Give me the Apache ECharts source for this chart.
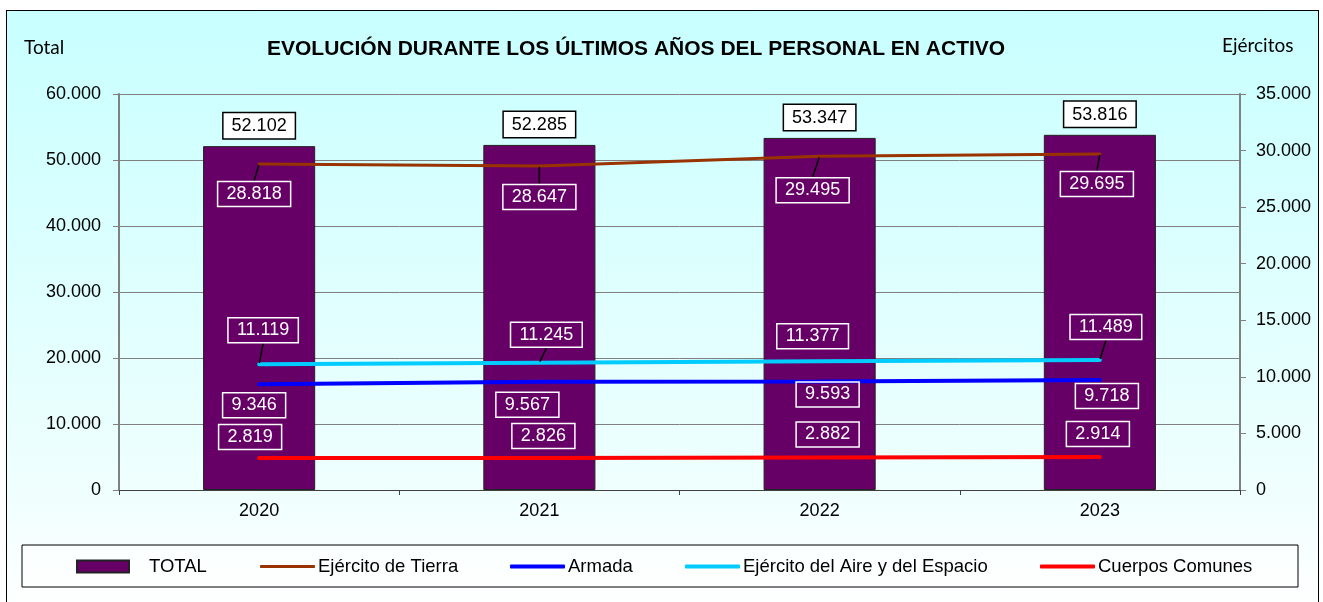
<!DOCTYPE html>
<html>
<head>
<meta charset="utf-8">
<script src="https://cdn.jsdelivr.net/npm/echarts@6/dist/echarts.min.js"></script>
<style>
  body { margin: 0; background: #fff; }
  #frame {
    position: absolute; left: 6px; top: 10px; width: 1311px; height: 600px;
    border: 1px solid #000;
    background: linear-gradient(to bottom, #c8ffff 0%, #effffe 80%, #ffffff 100%);
  }
  #main { position: absolute; left: 0; top: 0; width: 1323px; height: 602px; }
</style>
</head>
<body>
<div id="frame"></div>
<div id="main"></div>
<script>
// datos
const years = ['2020', '2021', '2022', '2023']
const total = [52102, 52285, 53347, 53816]
const tierra = [28818, 28647, 29495, 29695]
const armada = [9346, 9567, 9593, 9718]
const aire = [11119, 11245, 11377, 11489]
const comunes = [2819, 2826, 2882, 2914]

// desplazamiento de las etiquetas respecto al punto (px)
const tierraOff = [[-5, 30], [0, 31], [-7, 34], [-3, 30]]
const aireOff = [[4, -34], [7, -28], [-7, -25], [6, -33]]
const armadaOff = [[-5, 21], [-12, 23], [8, 13], [7, 16]]
const comunesOff = [[-9, -21], [4, -22], [8, -23], [-2, -23]]
const aireLeader = [true, true, false, true]

const fmt = v => String(v).replace(/\B(?=(\d{3})+(?!\d))/g, '.')
const FONT = 'Liberation Sans'

const lineLabel = {
  show: true,
  formatter: p => fmt(p.value),
  color: '#fff',
  fontFamily: FONT,
  fontSize: 18,
  borderColor: '#fff',
  borderWidth: 1.5,
  padding: [4, 9, 3, 9]
}

function offsetLayout(off) {
  return p => {
    const [dx, dy] = off[p.dataIndex]
    return {
      x: p.rect.x + p.rect.width / 2 + dx,
      y: p.rect.y + p.rect.height / 2 + dy,
      align: 'center',
      verticalAlign: 'middle'
    }
  }
}

function lineSeries(name, values, color, width, off, leader) {
  return {
    name,
    type: 'line',
    yAxisIndex: 1,
    data: values.map((v, i) => ({ value: v, labelLine: { show: leader ? leader[i] : false } })),
    symbol: 'circle',
    symbolSize: 2,
    itemStyle: { color },
    lineStyle: { color, width, cap: 'round' },
    label: lineLabel,
    labelLine: { lineStyle: { color: '#000', width: 1.5 } },
    labelLayout: offsetLayout(off),
    z: 3
  }
}

function legendAt(name, left, icon, w, h) {
  return {
    data: [{ name, icon }],
    left,
    top: 557,
    padding: 0,
    itemWidth: w,
    itemHeight: h,
    textStyle: { fontFamily: FONT, fontSize: 18.5, color: '#000', padding: name === 'TOTAL' ? [0, 0, 0, 15] : [0, 0, 0, -2] }
  }
}

const chart = echarts.init(document.getElementById('main'))
chart.setOption({
  animation: false,
  title: [
    {
      text: 'EVOLUCIÓN DURANTE LOS ÚLTIMOS AÑOS DEL PERSONAL EN ACTIVO',
      left: 262, top: 34,
      textStyle: { fontFamily: FONT, fontSize: 21, fontWeight: 'bold', color: '#000' }
    },
    { text: 'Total', left: 19, top: 33, textStyle: { fontFamily: 'Lato', fontSize: 19, fontWeight: 'normal', color: '#000' } },
    { text: 'Ejércitos', left: 1217, top: 31, textStyle: { fontFamily: 'Lato', fontSize: 19, fontWeight: 'normal', color: '#000' } }
  ],
  legend: [
    legendAt('TOTAL', 76, 'rect', 52, 12),
    legendAt('Ejército de Tierra', 260, 'roundRect', 55, 3),
    legendAt('Armada', 510, 'roundRect', 55, 4),
    legendAt('Ejército del Aire y del Espacio', 685, 'roundRect', 55, 4),
    legendAt('Cuerpos Comunes', 1040, 'roundRect', 55, 4)
  ],
  graphic: [{
    type: 'rect',
    shape: { x: 22, y: 545, width: 1276, height: 42 },
    style: { fill: 'rgba(255,255,255,0.5)', stroke: '#000', lineWidth: 1 },
    z: -1
  }],
  grid: { left: 119, top: 94, right: 83, height: 396 },
  xAxis: {
    type: 'category',
    data: years,
    axisLine: { lineStyle: { color: '#404040', width: 1 } },
    axisTick: { show: true, length: 5, lineStyle: { color: '#404040' } },
    axisLabel: { fontFamily: FONT, fontSize: 18, color: '#000', margin: 12 }
  },
  yAxis: [
    {
      type: 'value', min: 0, max: 60000, interval: 10000,
      axisLine: { show: true, lineStyle: { color: '#808080', width: 2 } },
      axisTick: { show: true, length: 6, lineStyle: { color: '#808080' } },
      axisLabel: { fontFamily: FONT, fontSize: 18, color: '#000', margin: 18, formatter: fmt },
      splitLine: { lineStyle: { color: '#808080', width: 1 } }
    },
    {
      type: 'value', min: 0, max: 35000, interval: 5000,
      axisLine: { show: true, lineStyle: { color: '#808080', width: 2 } },
      axisTick: { show: true, length: 6, lineStyle: { color: '#808080' } },
      axisLabel: { fontFamily: FONT, fontSize: 18, color: '#000', margin: 16, formatter: fmt },
      splitLine: { show: false }
    }
  ],
  series: [
    {
      name: 'TOTAL',
      type: 'bar',
      data: total,
      barWidth: '40%',
      itemStyle: { color: '#660066', borderColor: '#222', borderWidth: 1 },
      label: {
        show: true,
        position: 'top',
        distance: 8,
        formatter: p => fmt(p.value),
        color: '#000',
        fontFamily: FONT,
        fontSize: 18,
        backgroundColor: '#fff',
        borderColor: '#000',
        borderWidth: 1.5,
        padding: [4, 8, 3, 8]
      }
    },
    lineSeries('Ejército de Tierra', tierra, '#993300', 3, tierraOff, [true, true, true, true]),
    lineSeries('Armada', armada, '#0000ff', 4, armadaOff, null),
    lineSeries('Ejército del Aire y del Espacio', aire, '#00ccff', 4, aireOff, aireLeader),
    lineSeries('Cuerpos Comunes', comunes, '#ff0000', 4, comunesOff, null)
  ]
})
</script>
</body>
</html>
